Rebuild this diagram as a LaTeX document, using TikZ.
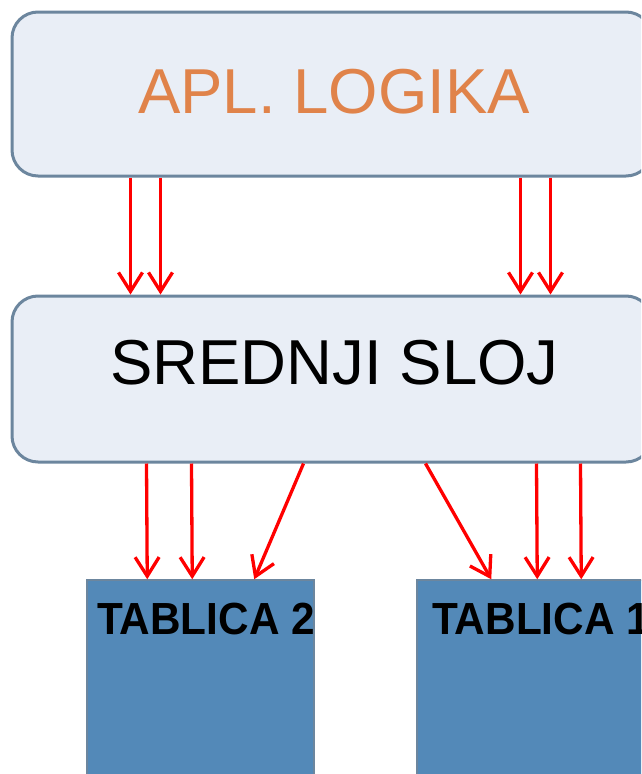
\documentclass[tikz,border=0pt]{standalone}
\usepackage{fontspec}
\setmainfont{Liberation Sans}
\usepackage{graphicx}
\usetikzlibrary{arrows.meta}
\definecolor{boxline}{HTML}{6C869E}
\definecolor{boxfill}{HTML}{E9EEF6}
\definecolor{orangetxt}{HTML}{E0834A}
\definecolor{tabfill}{HTML}{5389B8}
\definecolor{arrred}{HTML}{FF0000}
\tikzset{
  layerbox/.style={draw=boxline, fill=boxfill, line width=3pt, rounded corners=26pt, inner sep=0pt},
  tabbox/.style={draw=boxline, fill=tabfill, line width=1.5pt, inner sep=0pt},
  arr/.style={draw=arrred, line width=3.3pt, -{Straight Barb[length=19pt,width=24pt,line width=3.3pt]}},
  bigtxt/.style={inner sep=0pt, anchor=base, font=\fontsize{63.5}{70}\selectfont},
  tabtxt/.style={inner sep=0pt, anchor=base west, font=\fontsize{45}{50}\selectfont\bfseries}
}
\begin{document}
\begin{tikzpicture}[x=1pt,y=-1pt]
\useasboundingbox (0,0) rectangle (641,774);
\clip (0,0) rectangle (641,774);
\node[layerbox, minimum width=640pt, minimum height=164pt] (top) at (332,94) {};
\node[layerbox, minimum width=640pt, minimum height=166pt] (mid) at (332,379) {};
\node[tabbox, minimum width=227pt, minimum height=220pt] (tab2) at (200.5,690) {};
\node[tabbox, minimum width=240pt, minimum height=220pt] (tab1) at (537,690) {};
\node[bigtxt, text=orangetxt] (toptxt) at (334,113) {APL. LOGIKA};
\node[bigtxt, text=black] (midtxt) at (334.5,384) {SREDNJI SLOJ};
\node[tabtxt] (tab2txt) at (97,634) {\scalebox{0.94}[1]{TABLICA 2}};
\node[tabtxt] (tab1txt) at (432,634) {\scalebox{0.94}[1]{TABLICA 1}};
% top -> mid
\draw[arr] ([xshift=120pt]top.south west) -- ([xshift=120pt]mid.north west);
\draw[arr] ([xshift=150pt]top.south west) -- ([xshift=150pt]mid.north west);
\draw[arr] ([xshift=510pt]top.south west) -- ([xshift=510pt]mid.north west);
\draw[arr] ([xshift=540pt]top.south west) -- ([xshift=540pt]mid.north west);
% mid -> tables
\draw[arr] ([xshift=136pt]mid.south west) -- ([xshift=61pt]tab2.north west);
\draw[arr] ([xshift=181pt]mid.south west) -- ([xshift=106pt]tab2.north west);
\draw[arr] ([xshift=293pt]mid.south west) -- ([xshift=168pt]tab2.north west);
\draw[arr] ([xshift=415pt]mid.south west) -- ([xshift=75pt]tab1.north west);
\draw[arr] ([xshift=526pt]mid.south west) -- ([xshift=121pt]tab1.north west);
\draw[arr] ([xshift=570pt]mid.south west) -- ([xshift=165pt]tab1.north west);
\end{tikzpicture}
\end{document}
